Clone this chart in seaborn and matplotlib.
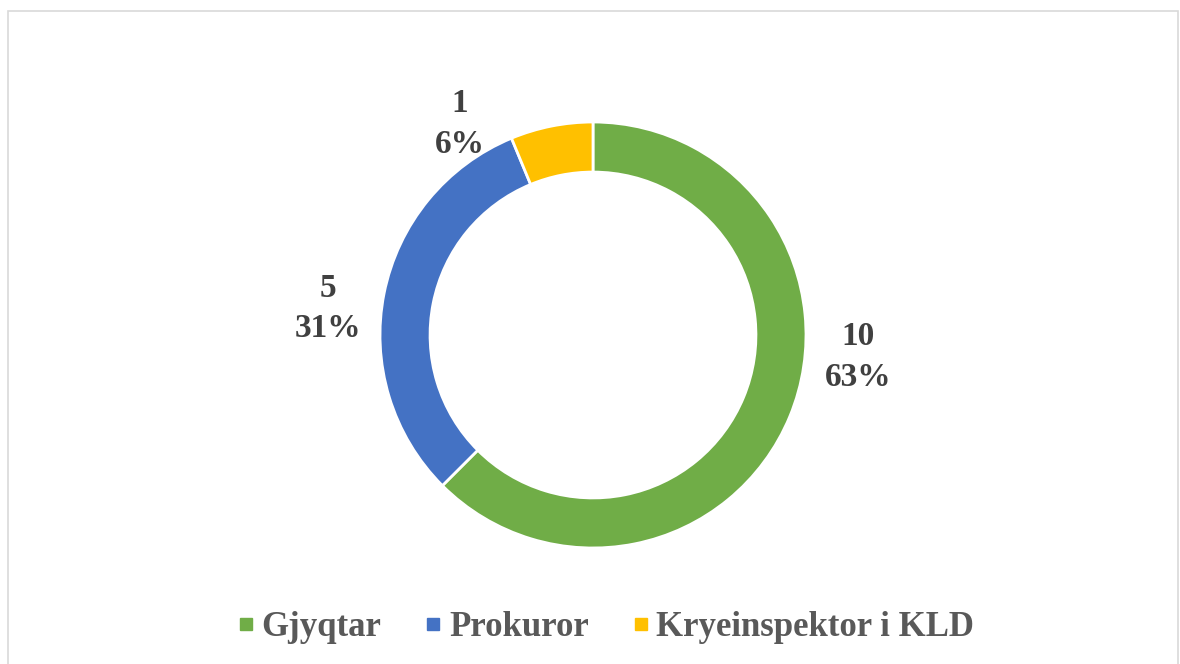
import numpy as np
import matplotlib
matplotlib.use("Agg")
import matplotlib.pyplot as plt
import seaborn as sns
from matplotlib.lines import Line2D
from matplotlib.patches import Rectangle

categories = ["Gjyqtar", "Prokuror", "Kryeinspektor i KLD"]
values = [10, 5, 1]
percent_labels = ["63%", "31%", "6%"]
colors = ["#70AD47", "#4472C4", "#FFC000"]

sns.set_theme(style="white")
plt.rcParams['font.family'] = ['Liberation Serif', 'DejaVu Serif']
plt.rcParams['font.weight'] = 'bold'

W, H = 1180, 664
fig = plt.figure(figsize=(W / 100, H / 100), dpi=100)

# donut axes: centre (593,335)px, radius 213px
L = 1.4
S = 2 * 213 * L
cx, cy = 593, H - 335
ax = fig.add_axes([(cx - S / 2) / W, (cy - S / 2) / H, S / W, S / H])

wedges, _ = ax.pie(values, colors=colors, startangle=90, counterclock=False,
                   radius=1.0,
                   wedgeprops=dict(width=0.235, edgecolor="white", linewidth=2))
ax.set_xlim(-L, L)
ax.set_ylim(-L, L)
ax.set_aspect("equal")
ax.axis("off")

# label placement (Excel-like outside end)
label_angle_shift = [17.8, 5.5, 21.0]
label_dist = [1.25, 1.25, 1.17]
for w, v, p, sh, d in zip(wedges, values, percent_labels, label_angle_shift, label_dist):
    mid = (w.theta1 + w.theta2) / 2 + sh
    x = d * np.cos(np.deg2rad(mid))
    y = d * np.sin(np.deg2rad(mid))
    ax.text(x, y, f"{v}\n{p}", ha="center", va="center", fontsize=24,
            fontweight="bold", color="#404040", linespacing=1.4)

handles = [Line2D([0], [0], marker="s", linestyle="none", markersize=8,
                  markerfacecolor=c, markeredgecolor=c) for c in colors]
leg = fig.legend(handles, categories, loc="center",
                 bbox_to_anchor=(0.5 + 14 / W, 1 - 628 / H),
                 ncol=3, frameon=False, fontsize=25, handletextpad=0.1,
                 columnspacing=1.15, handlelength=0.7)
for t in leg.get_texts():
    t.set_color("#595959")
    t.set_fontweight("bold")

fig.patches.append(Rectangle((8 / W, -0.05), (1178 - 8) / W, (H - 11) / H + 0.05,
                             transform=fig.transFigure, fill=False,
                             edgecolor="#D9D9D9", linewidth=1.2))

fig.savefig("out.png", dpi=100, facecolor="white")
